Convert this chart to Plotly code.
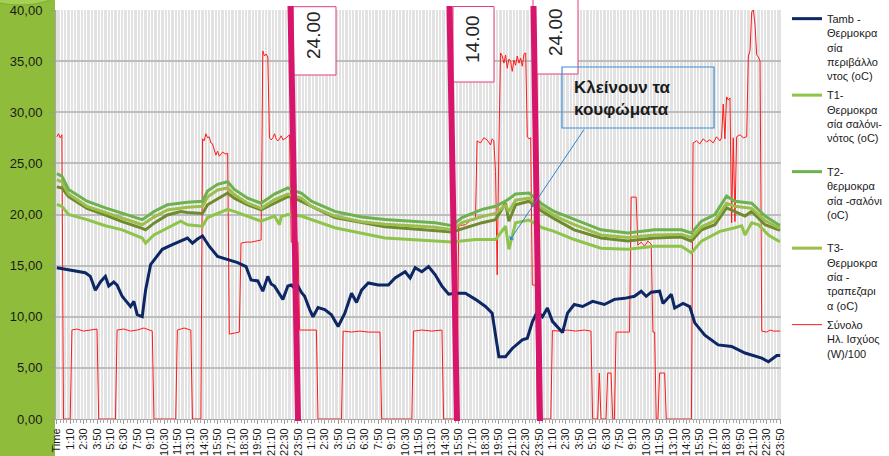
import plotly.graph_objects as go

# ---------------- data (x = 10-minute sample index, 0 = "Time" header) ----------------
day_labels = ["1:10", "2:30", "3:50", "5:10", "6:30", "7:50", "9:10", "10:30", "11:50",
              "13:10", "14:30", "15:50", "17:10", "18:30", "19:50", "21:10", "22:30", "23:50"]
tick_text = ["Time"] + day_labels * 3
tick_vals = list(range(0, 433, 8))

y_tick_vals = [0, 5, 10, 15, 20, 25, 30, 35, 40]
y_tick_text = ["0,00", "5,00", "10,00", "15,00", "20,00", "25,00", "30,00", "35,00", "40,00"]

tamb_x = [0, 11, 17, 20, 23, 26, 29, 31, 34, 36, 39, 41, 44, 46, 48, 51, 53, 56, 59, 63, 69, 75, 78,
          81, 84, 87, 91, 96, 102, 108, 113, 116, 120, 123, 126, 128, 130, 133, 135, 138, 140, 142,
          144, 146, 148, 151, 153, 156, 160, 164, 168, 172, 176, 179, 182, 186, 192, 198, 202, 208,
          211, 214, 218, 222, 226, 230, 234, 238, 244, 250, 256, 260, 262, 264, 268, 272, 278, 281,
          284, 287, 290, 293, 296, 302, 305, 309, 314, 320, 327, 333, 339, 345, 349, 352, 355, 360,
          362, 367, 369, 374, 378, 381, 387, 395, 403, 411, 421, 425, 430, 432]
tamb_y = [14.8, 14.5, 14.3, 13.95, 12.6, 13.4, 13.95, 13.0, 13.4, 13.1, 12.0, 11.6, 11.0, 11.5, 10.2,
          10.0, 12.6, 15.1, 15.75, 16.6, 17.05, 17.5, 17.7, 17.2, 17.6, 17.9, 16.9, 15.9, 15.6, 15.3,
          14.9, 13.6, 13.5, 12.5, 13.95, 13.2, 13.0, 12.2, 11.7, 13.0, 13.1, 12.8, 13.0, 12.4, 12.0,
          10.7, 10.0, 10.9, 10.7, 10.2, 9.05, 10.35, 12.3, 11.4, 12.6, 13.3, 13.1, 13.1, 13.8, 14.4,
          13.8, 14.8, 14.4, 14.9, 14.1, 13.0, 12.2, 12.3, 12.3, 11.7, 11.0, 10.35, 8.4, 6.1, 6.1, 6.9,
          7.75, 7.9, 9.5, 10.5, 10.0, 10.85, 9.55, 8.45, 10.35, 11.2, 11.0, 11.5, 11.2, 11.7, 11.8,
          12.0, 12.5, 12.0, 12.4, 12.5, 11.3, 12.2, 10.85, 11.3, 11.0, 9.4, 8.2, 7.25, 7.1, 6.45, 5.95,
          5.6, 6.2, 6.2]

# T2 (top curve)
t2_x = [0, 3, 7, 18, 29, 39, 51, 58, 66, 78, 87, 90, 96, 102, 106, 114, 122, 130, 138, 142, 146, 152,
        166, 182, 196, 212, 226, 236, 242, 254, 262, 268, 274, 282, 290, 297, 309, 325, 341, 357, 373,
        379, 385, 393, 400, 405, 415, 423, 431, 432]
t2_y = [24.0, 23.75, 22.45, 21.3, 20.65, 20.1, 19.5, 20.3, 20.95, 21.2, 21.3, 22.3, 22.95, 23.2, 22.45,
        21.6, 21.1, 22.0, 22.6, 22.3, 22.1, 21.3, 20.3, 19.75, 19.5, 19.35, 19.2, 18.9, 19.7, 20.5, 20.8,
        21.3, 22.0, 22.1, 21.0, 20.3, 19.5, 18.5, 18.2, 18.5, 18.5, 18.2, 19.35, 20.0, 21.8, 21.3, 21.1,
        19.85, 19.0, 18.95]

# T3 (second curve)
t3_x = [0, 3, 7, 18, 29, 39, 51, 58, 66, 78, 87, 90, 96, 102, 106, 114, 122, 130, 138, 142, 146, 152,
        166, 182, 196, 212, 226, 236, 242, 254, 262, 268, 270, 274, 282, 290, 297, 309, 325, 341, 357,
        373, 379, 385, 393, 400, 405, 415, 423, 431, 432]
t3_y = [23.4, 23.2, 22.0, 20.8, 20.2, 19.65, 19.0, 19.75, 20.45, 20.7, 20.8, 21.7, 22.4, 22.6, 21.95,
        21.1, 20.6, 21.45, 22.0, 21.8, 21.6, 20.8, 19.85, 19.3, 19.05, 18.9, 18.75, 18.5, 19.2, 19.8,
        20.1, 20.9, 20.3, 21.4, 21.6, 20.6, 19.9, 19.0, 18.0, 17.75, 18.0, 18.05, 17.75, 18.8, 19.4,
        21.1, 20.8, 20.6, 19.4, 18.7, 18.7]

# fourth temperature curve (olive, its legend entry is outside the picture)
t4_x = [0, 3, 7, 18, 29, 39, 51, 53, 58, 66, 74, 78, 87, 90, 102, 106, 114, 122, 130, 138, 142, 166,
        196, 226, 236, 254, 262, 268, 270, 274, 282, 290, 297, 309, 325, 341, 357, 373, 379, 385, 393,
        400, 405, 411, 415, 423, 431, 432]
t4_y = [22.7, 22.6, 21.75, 20.6, 19.95, 19.3, 18.65, 18.5, 19.15, 19.95, 20.3, 20.2, 20.1, 20.95, 22.1,
        21.6, 20.95, 20.45, 21.1, 21.75, 21.6, 19.7, 18.8, 18.45, 18.3, 19.2, 19.5, 21.1, 19.35, 20.95,
        21.3, 20.3, 19.6, 18.5, 17.7, 17.4, 17.7, 17.8, 17.4, 18.5, 19.0, 20.65, 20.3, 19.85, 20.3,
        19.0, 18.5, 18.5]

# T1 (lowest curve)
t1_x = [0, 3, 7, 18, 29, 39, 51, 53, 58, 66, 74, 78, 87, 90, 102, 106, 114, 122, 130, 133, 134, 138,
        146, 166, 196, 226, 236, 250, 262, 268, 270, 274, 282, 290, 297, 309, 325, 341, 357, 373, 379,
        385, 396, 405, 409, 411, 415, 419, 425, 431, 432]
t1_y = [21.0, 20.8, 20.0, 19.5, 18.9, 18.5, 17.7, 17.2, 18.0, 18.7, 19.35, 19.0, 18.85, 19.7, 20.5,
        20.3, 19.8, 19.35, 19.85, 19.0, 19.8, 20.0, 19.85, 18.7, 17.7, 17.4, 17.3, 17.55, 17.55, 18.85,
        16.6, 19.2, 19.45, 18.7, 18.35, 17.55, 16.7, 16.6, 16.9, 16.9, 16.25, 17.4, 18.35, 18.7, 18.9,
        18.0, 19.2, 19.0, 18.0, 17.4, 17.4]

# total electrical power / 100
power_x = [0, 1, 2, 3, 4, 8, 9, 12, 16, 20, 24, 25, 35, 36, 40, 44, 48, 52, 57, 58, 71, 72, 76, 80, 81,
           86, 87, 88, 89, 90, 91, 92, 93, 95, 96, 97, 99, 101, 102, 103, 106, 109, 110, 113, 116, 119,
           122, 123, 124, 125, 126, 127, 128, 129, 130, 131, 132, 133, 134, 135, 137, 139, 140, 144,
           145, 150, 155, 156, 170, 171, 176, 181, 186, 193, 194, 212, 213, 218, 224, 230, 231, 239,
           240, 244, 247, 250, 251, 253, 255, 257, 259, 260, 261, 262, 263, 264, 265, 266, 267, 268,
           269, 270, 271, 272, 273, 274, 275, 276, 277, 278, 279, 280, 281, 282, 283, 284, 286, 287,
           295, 296, 300, 305, 310, 315, 319, 320, 323, 324, 325, 328, 329, 331, 332, 333, 334, 338,
           342, 343, 346, 347, 349, 351, 353, 355, 356, 357, 358, 359, 360, 363, 364, 379, 380, 382,
           384, 386, 388, 390, 392, 394, 396, 397, 398, 399, 400, 401, 402, 403, 404, 405, 406, 408,
           410, 412, 413, 414, 415, 416, 417, 418, 419, 420, 421, 424, 426, 428, 432]
power_y = [27.6, 27.9, 27.5, 27.8, 0, 0, 8.7, 8.8, 8.6, 8.7, 8.8, 0, 0, 8.7, 8.8, 8.6, 8.7, 8.9, 8.6, 0,
           0, 8.7, 8.9, 8.7, 0, 0, 27.4, 27.2, 27.9, 27.5, 27.6, 27.0, 26.9, 25.8, 26.2, 25.7, 26.1,
           25.9, 26.0, 8.3, 8.4, 8.5, 17.2, 17.3, 17.3, 17.4, 17.5, 36.0, 35.5, 35.7, 35.4, 27.5, 27.3,
           27.5, 27.9, 27.4, 27.2, 27.4, 27.7, 27.3, 27.5, 27.8, 17.3, 17.3, 8.7, 8.7, 8.7, 0, 0, 8.6,
           8.5, 8.6, 8.5, 8.5, 0, 0, 8.6, 8.7, 8.6, 8.7, 0, 0, 18.9, 19.0, 19.4, 19.5, 27.2, 27.0, 27.5,
           27.3, 26.8, 27.4, 27.2, 24.2, 14.1, 26.5, 35.8, 35.5, 34.8, 35.6, 34.3, 35.2, 35.0, 34.0,
           35.1, 34.6, 35.5, 34.8, 35.3, 34.5, 35.7, 35.8, 27.6, 27.4, 27.5, 13.1, 13.1, 0, 0, 8.65,
           8.6, 8.7, 8.6, 8.7, 8.6, 0, 0, 4.5, 0, 0, 4.5, 4.5, 0, 0, 8.5, 8.5, 8.5, 21.7, 21.7, 17.0,
           17.3, 16.9, 17.4, 17.1, 8.5, 8.5, 0, 0, 4.5, 4.5, 0, 0, 27.0, 27.2, 26.9, 27.4, 27.1, 27.3,
           27.0, 27.6, 27.2, 27.5, 30.8, 27.4, 31.5, 31.2, 31.4, 19.2, 27.5, 19.3, 27.6, 27.8, 27.5,
           27.6, 35.5, 36.0, 39.8, 40.0, 38.5, 35.6, 35.4, 35.0, 8.6, 8.5, 8.7, 8.6, 8.6]

# ---------------- figure ----------------
W, H = 889, 456
ML, MR, MT, MB = 56, 108, 10, 37
PW, PH = W - ML - MR, H - MT - MB


def px(xp):
    return (xp - ML) / PW


def py(yp):
    return (H - MB - yp) / PH


fig = go.Figure()

fig.add_trace(go.Scatter(x=power_x, y=power_y, mode="lines", name="Σύνολο<br>Ηλ. Ισχύος<br>(W)/100",
                         line=dict(color="#FF1A1A", width=1), legendrank=5, legendgroup="g5"))
fig.add_trace(go.Scatter(x=t1_x, y=t1_y, mode="lines", name="T1-<br>Θερμοκρα<br>σία σαλόνι-<br>νότος (oC)<br> ",
                         line=dict(color="#8DC449", width=3), legendrank=2, legendgroup="g2"))
fig.add_trace(go.Scatter(x=t4_x, y=t4_y, mode="lines", name="T4", showlegend=False,
                         line=dict(color="#6E8B2D", width=3), legendgroup="g6"))
fig.add_trace(go.Scatter(x=t3_x, y=t3_y, mode="lines", name="T3-<br>Θερμοκρα<br>σία -<br>τραπεζαρι<br>α (oC)",
                         line=dict(color="#9DBE4C", width=3), legendrank=4, legendgroup="g4"))
fig.add_trace(go.Scatter(x=t2_x, y=t2_y, mode="lines", name="T2-<br>θερμοκρα<br>σία -σαλόνι<br>(oC)<br> ",
                         line=dict(color="#6DB24F", width=3), legendrank=3, legendgroup="g3"))
fig.add_trace(go.Scatter(x=tamb_x, y=tamb_y, mode="lines", name="Tamb -<br>Θερμοκρα<br>σία<br>περιβάλλο<br>ντος (oC)",
                         line=dict(color="#0C2764", width=3), legendrank=1, legendgroup="g1"))

shapes = []
# green decorative strip on the left
shapes.append(dict(type="rect", xref="paper", yref="paper", x0=px(-5), x1=px(55), y0=py(460), y1=py(-5),
                   fillcolor="#8FBD3B", line=dict(width=0), layer="below"))
shapes.append(dict(type="circle", xref="paper", yref="paper", x0=px(-20), x1=px(60), y0=py(5), y1=py(-25),
                   fillcolor="#A6CF55", line=dict(color="#7FAE2E", width=1), layer="below"))

# pink text boxes
for (x0, x1, y0, y1) in [(293, 336, 6.7, 75), (453, 494, 6.5, 82), (533, 578, -5, 74)]:
    shapes.append(dict(type="rect", xref="paper", yref="paper", x0=px(x0), x1=px(x1), y0=py(y1), y1=py(y0),
                       fillcolor="white", line=dict(color="#E23C83", width=1), layer="above"))
# thick magenta marker lines
for (xt, xb) in [(290.5, 298), (449.5, 457), (533.5, 540)]:
    shapes.append(dict(type="line", xref="paper", yref="paper", x0=px(xt), x1=px(xb), y0=py(6), y1=py(421),
                       line=dict(color="#D6156B", width=6), layer="above"))
# blue callout box
shapes.append(dict(type="rect", xref="paper", yref="paper", x0=px(562), x1=px(714), y0=py(128), y1=py(67),
                   fillcolor="rgba(0,0,0,0)", line=dict(color="#3A8DD6", width=1.2), layer="above"))

annotations = []
for (txt, xc, yc) in [("24.00", 313, 35), ("14.00", 472, 39), ("24.00", 555, 32)]:
    annotations.append(dict(text=txt, xref="paper", yref="paper", x=px(xc), y=py(yc), showarrow=False,
                            textangle=-90, font=dict(family="Liberation Sans, Arial", size=19, color="#262626"),
                            xanchor="center", yanchor="middle"))
annotations.append(dict(text="<b>Κλείνουν τα<br>κουφώματα</b>", xref="paper", yref="paper", x=px(572), y=py(99),
                        showarrow=False, align="left", xanchor="left", yanchor="middle",
                        font=dict(family="Liberation Sans, Arial", size=17, color="#1A1A1A")))
annotations.append(dict(text="", xref="paper", yref="paper", x=px(510), y=py(240), ax=75, ay=-112,
                        showarrow=True, arrowhead=1, arrowsize=1, arrowwidth=1, arrowcolor="#2F82CC"))

fig.update_layout(
    width=W, height=H,
    margin=dict(l=ML, r=MR, t=MT, b=MB, autoexpand=False),
    paper_bgcolor="white",
    plot_bgcolor="#E2E2E2",
    font=dict(family="Liberation Sans, Arial", color="#1A1A1A"),
    shapes=shapes,
    annotations=annotations,
    legend=dict(x=px(787), y=py(5), xanchor="left", yanchor="top", valign="top",
                font=dict(family="Liberation Sans, Arial", size=11, color="#1A1A1A"),
                bgcolor="rgba(0,0,0,0)", itemwidth=30, tracegroupgap=2, maxheight=456),
    xaxis=dict(range=[-0.5, 432.5], tickmode="array", tickvals=tick_vals, ticktext=tick_text,
               tickangle=-90, tickfont=dict(size=11, color="#1A1A1A"), ticks="outside", ticklen=4,
               tickcolor="#9A9A9A", showgrid=True, gridcolor="white", gridwidth=1,
               showline=True, linecolor="#A6A6A6", linewidth=1, zeroline=False,
               minor=dict(tickmode="linear", tick0=0, dtick=2, ticks="outside", ticklen=3,
                          tickcolor="#A8A8A8", showgrid=True, gridcolor="white", gridwidth=1)),
    yaxis=dict(range=[0, 40], tickmode="array", tickvals=y_tick_vals, ticktext=y_tick_text,
               tickfont=dict(size=13, color="#1A1A1A"), ticks="outside", ticklen=4, tickcolor="#9A9A9A",
               showgrid=True, gridcolor="#BDBDBD", gridwidth=1.5, showline=True, linecolor="#A6A6A6",
               zeroline=False, ticklabelstandoff=6),
)

fig.write_html("out.html", config={"displayModeBar": False},
               post_script="document.body.style.margin='0';document.body.style.overflow='hidden';")
